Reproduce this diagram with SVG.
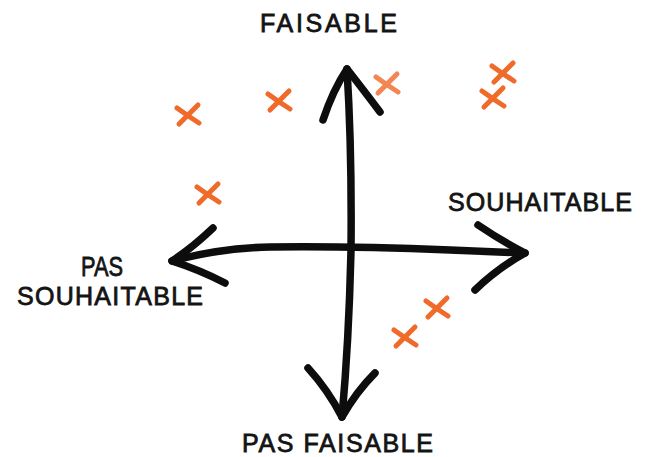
<svg xmlns="http://www.w3.org/2000/svg" width="651" height="457" viewBox="0 0 651 457">
<style>
.ax{fill:none;stroke:#0d0d0d;stroke-width:7.5;stroke-linecap:round;stroke-linejoin:round}
.lbl{font-family:"Liberation Sans","DejaVu Sans",sans-serif;font-size:25px;fill:#141414;stroke:#141414;stroke-width:0.8}
.x{fill:none;stroke:#f06a2a;stroke-width:5;stroke-linecap:round}
</style>
<defs>
<g id="mark">
<path class="x" d="M-11,-7 Q0,1 11,8"/>
<path class="x" d="M10,-10 Q0,0 -9,9"/>
</g>
</defs>
<rect width="651" height="457" fill="#ffffff"/>
<g id="connectors">
<g id="axis-vertical">
<path class="ax" d="M342,417 Q349,340 351,250 Q352,150 347,69"/>
<path class="ax" d="M323,120 Q333,90 347,69 Q362,88 380,112"/>
<path class="ax" d="M308,368 Q328,390 342,417 Q356,392 375,373"/>
</g>
<g id="axis-horizontal">
<path class="ax" d="M172,261 Q220,248 270,247 Q350,246 450,250 Q500,252 525,253"/>
<path class="ax" d="M213,228 Q192,248 172,261 Q200,270 225,283"/>
<path class="ax" d="M478,225 Q500,240 525,253 Q498,268 475,290"/>
</g>
</g>
<g id="label-faisable"><text class="lbl" x="260" y="32" textLength="137" lengthAdjust="spacing">FAISABLE</text></g>
<g id="label-souhaitable"><text class="lbl" x="448" y="211" textLength="184" lengthAdjust="spacing">SOUHAITABLE</text></g>
<g id="label-pas-souhaitable">
<text class="lbl" x="81" y="276" style="font-size:28px" textLength="42" lengthAdjust="spacingAndGlyphs">PAS</text>
<text class="lbl" x="17" y="305" textLength="186" lengthAdjust="spacing">SOUHAITABLE</text>
</g>
<g id="label-pas-faisable"><text class="lbl" x="242" y="452" textLength="191" lengthAdjust="spacing">PAS FAISABLE</text></g>
<g id="marks">
<use href="#mark" transform="translate(188,115)"/>
<use href="#mark" transform="translate(279,101)"/>
<use href="#mark" transform="translate(387,84)" opacity="0.8"/>
<use href="#mark" transform="translate(503,73)"/>
<use href="#mark" transform="translate(493,98)"/>
<use href="#mark" transform="translate(208,194)"/>
<use href="#mark" transform="translate(437,308)"/>
<use href="#mark" transform="translate(405,337)"/>
</g>
</svg>
